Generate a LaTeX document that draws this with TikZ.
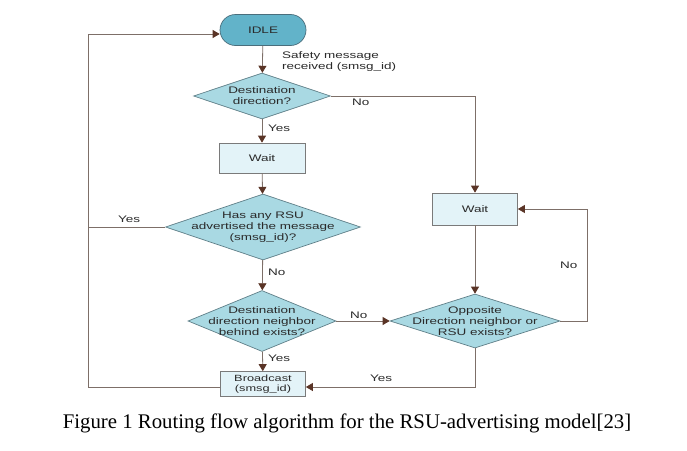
\documentclass[tikz,border=0pt]{standalone}
\usepackage{fontspec}
\setmainfont{Liberation Serif}
\newfontfamily\df[FakeStretch=1.42]{Liberation Sans}
\usetikzlibrary{arrows.meta,shapes.geometric,shapes.misc}
\definecolor{idlefill}{HTML}{62B3C9}
\definecolor{idledraw}{HTML}{4A6E7C}
\definecolor{diafill}{HTML}{A9D9E3}
\definecolor{diadraw}{HTML}{5F7F88}
\definecolor{boxfill}{HTML}{E3F3F8}
\definecolor{boxdraw}{HTML}{7A7A7A}
\definecolor{linec}{HTML}{7D6F68}
\definecolor{tipc}{HTML}{5A3426}
\definecolor{txt}{HTML}{2A2A2A}
\tikzset{
  x=1pt, y=-1pt,
  lbl/.style={font=\df\fontsize{9.5}{11}\selectfont, text=txt, inner sep=0pt, align=center},
  dia/.style={diamond, draw=diadraw, fill=diafill, inner sep=0pt, line width=0.7pt},
  stepbox/.style={rectangle, draw=boxdraw, fill=boxfill, line width=0.7pt, inner sep=0pt},
  term/.style={rounded rectangle, draw=idledraw, fill=idlefill, line width=0.7pt, inner sep=0pt},
  conn/.style={draw=linec, line width=0.8pt},
  arr/.style={conn, -{Triangle[length=7pt, width=8pt, color=tipc]}},
}
\begin{document}
\begin{tikzpicture}
\useasboundingbox (0,0) rectangle (687,450);
\fill[white] (0,0) rectangle (687,450);
% nodes
\node[term, minimum width=86pt, minimum height=31pt] (idle) at (263,30) {};
\node[lbl] at (idle) {IDLE};
\node[dia, minimum width=137pt, minimum height=46pt] (d1) at (262,96) {};
\node[lbl] at (d1) {Destination\\direction?};
\node[stepbox, minimum width=86pt, minimum height=30pt] (w1) at (262,158) {};
\node[lbl] at (w1) {Wait};
\node[dia, minimum width=195pt, minimum height=66pt] (d2) at (263,227) {};
\node[lbl] at (d2) {Has any RSU\\advertised the message\\(smsg\_id)?};
\node[dia, minimum width=148pt, minimum height=61pt] (d3) at (262,321) {};
\node[lbl] at (d3) {Destination\\direction neighbor\\behind exists?};
\node[stepbox, minimum width=85pt, minimum height=25pt] (bc) at (263,384) {};
\node[lbl, font=\df\fontsize{9}{9.8}\selectfont] at (bc) {Broadcast\\(smsg\_id)};
\node[stepbox, minimum width=85pt, minimum height=32pt] (w2) at (475,209) {};
\node[lbl] at (w2) {Wait};
\node[dia, minimum width=170pt, minimum height=54pt] (d4) at (475,321) {};
\node[lbl] at (d4) {Opposite\\Direction neighbor or\\RSU exists?};
% corner coordinates
\coordinate (lt) at (88,34);
\coordinate (lb) at (88,387);
\coordinate (nr) at (475,96);
\coordinate (yb) at (475,387);
\coordinate (rb) at (587,321);
\coordinate (rt) at (587,209);
% connectors
\draw[arr] (idle) -- (d1);
\draw[arr] (d1) -- (w1);
\draw[arr] (w1) -- (d2);
\draw[arr] (d2) -- (d3);
\draw[arr] (d3) -- (bc);
\draw[arr] (d3.east) -- (d4.west);
\draw[arr] (d1.east) -- (nr) -- (w2.north);
\draw[arr] (w2) -- (d4);
\draw[arr] (d4.south) -- (yb) -- (bc.east |- yb);
\draw[arr] (d4.east) -- (rb) -- (rt) -- (w2.east);
\draw[conn] (d2.west) -- (d2.west -| lt);
\draw[arr] (bc.west |- lb) -- (lb) -- (lt) -- (idle.west |- lt);
% labels
\node[lbl, align=left, anchor=west] (safe) at (282,62) {Safety message\\received (smsg\_id)};
\node[lbl, anchor=west] (n1) at (352,102) {No};
\node[lbl, anchor=west] (y1) at (268,128) {Yes};
\node[lbl, anchor=west] (y2) at (118,219) {Yes};
\node[lbl, anchor=west] (n2) at (268,272) {No};
\node[lbl, anchor=west] (n3) at (350,315) {No};
\node[lbl, anchor=west] (y3) at (268,358) {Yes};
\node[lbl, anchor=west] (y4) at (370,378) {Yes};
\node[lbl, anchor=west] (n4) at (560,265) {No};
\node[anchor=base, font=\fontsize{20.8}{23}\selectfont, inner sep=0pt] (cap) at (347,428) {Figure 1 Routing flow algorithm for the RSU-advertising model[23]};
\end{tikzpicture}
\end{document}
